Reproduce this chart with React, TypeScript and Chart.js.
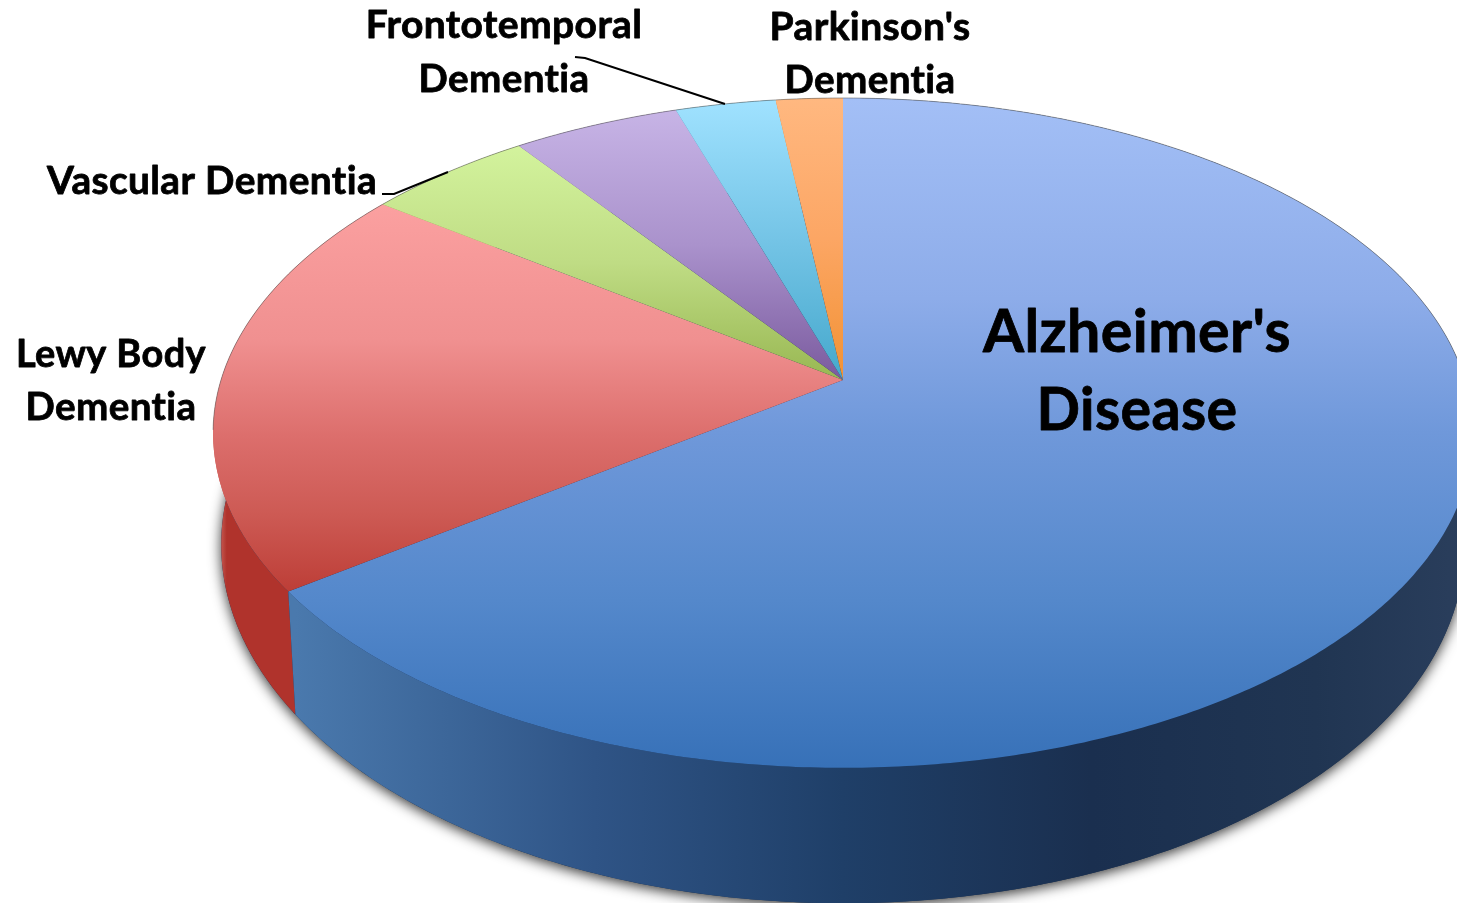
import React, { useEffect, useRef } from "react";
import { Chart, registerables, PieController, ArcElement } from "chart.js";

const categories = [
  "Alzheimer's Disease",
  "Lewy Body Dementia",
  "Vascular Dementia",
  "Frontotemporal Dementia",
  "Other Dementia",
  "Parkinson's Dementia",
];
const shareValues = [65, 20, 5, 5, 3, 2];

const baseColors = ["#5c8ace", "#e07a76", "#b8d67c", "#a48cc8", "#72c2e2", "#fba45e"];
const topStops: [number, string][][] = [
  [[0, "#a3bff6"], [0.3, "#8dace9"], [0.5, "#6f98da"], [0.75, "#5488cb"], [1, "#3771b8"]],
  [[0, "#fba0a0"], [0.35, "#f09090"], [0.6, "#dc6e6c"], [0.8, "#cd5a54"], [1, "#bd3e37"]],
  [[0, "#d3f39d"], [0.5, "#bfdc84"], [1, "#98b752"]],
  [[0, "#c7b4e6"], [0.5, "#aa92cc"], [1, "#7a5a9e"]],
  [[0, "#a0e2ff"], [0.5, "#74c4e6"], [1, "#45a8cc"]],
  [[0, "#ffb880"], [0.5, "#fca664"], [1, "#f29234"]],
];
const wallStops: [number, string][][] = [
  [[0.06, "#4a79ad"], [0.3, "#2f5486"], [0.5, "#1f3f68"], [0.7, "#1a2f4f"], [0.88, "#203552"], [1, "#2a3e5c"]],
  [[0, "#c4574f"], [0.07, "#b0332c"], [1, "#b0332c"]],
  [[0, "#8aa34a"], [1, "#8aa34a"]],
  [[0, "#6d5090"], [1, "#6d5090"]],
  [[0, "#3d95b0"], [1, "#3d95b0"]],
  [[0, "#d9812e"], [1, "#d9812e"]],
];

const FONT = 'bold SIZEpx Lato, "Noto Sans", sans-serif';
const pieLabels = [
  { lines: ["Alzheimer's", "Disease"], x: 1137, ys: [352, 430], size: 60, widths: [308, 201] },
  { lines: ["Lewy Body", "Dementia"], x: 111, ys: [367, 420], size: 39, widths: [190, 171] },
  { lines: ["Vascular Dementia"], x: 212, ys: [194], size: 39, widths: [330] },
  { lines: ["Frontotemporal", "Dementia"], x: 504, ys: [38, 92], size: 39, widths: [278, 171] },
  { lines: ["Parkinson's", "Dementia"], x: 870, ys: [40, 93], size: 39, widths: [201, 171] },
];
const leaders = [
  [[382, 194], [394, 194], [448, 172]],
  [[575, 57], [585, 58], [725, 104]],
];

const CX = 843;
const PERSP = -0.158;
const topDisc = { y0: 380, a: 266.5, r: 622 };
const baseDisc = { y0: 488, a: 272.5, r: 614 };

type Disc = typeof topDisc;
function project(d: Disc, angle: number) {
  const u = Math.cos(angle);
  const v = Math.sin(angle);
  const w = 1 + PERSP * v;
  return { x: CX + (d.r * u) / w, y: (d.y0 + d.a * v) / w };
}
function arcPoints(d: Disc, a0: number, a1: number) {
  const n = Math.max(4, Math.ceil(Math.abs(a1 - a0) / 0.01));
  const pts = [];
  for (let i = 0; i <= n; i++) pts.push(project(d, a0 + ((a1 - a0) * i) / n));
  return pts;
}

class PerspectiveArc extends ArcElement {
  static id = "perspectiveArc";
  draw(ctx: CanvasRenderingContext2D) {
    const self = this as any;
    const i = self.$context.index;
    const rim = arcPoints(topDisc, self.startAngle, self.endAngle);
    const ys = rim.map((p) => p.y).concat(topDisc.y0);
    const g = ctx.createLinearGradient(0, Math.min(...ys), 0, Math.max(...ys));
    topStops[i].forEach(([s, c]) => g.addColorStop(s, c));
    ctx.save();
    ctx.beginPath();
    ctx.moveTo(CX, topDisc.y0);
    rim.forEach((p) => ctx.lineTo(p.x, p.y));
    ctx.closePath();
    ctx.fillStyle = g;
    ctx.fill();
    ctx.beginPath();
    let pen = false;
    rim.forEach((p) => {
      if (p.y < topDisc.y0 + 53) {
        pen ? ctx.lineTo(p.x, p.y) : ctx.moveTo(p.x, p.y);
        pen = true;
      } else pen = false;
    });
    ctx.strokeStyle = "rgba(90,90,90,0.55)";
    ctx.lineWidth = 1;
    ctx.stroke();
    ctx.restore();
  }
}

class PerspectivePieController extends PieController {
  static id = "perspectivePie";
  static defaults = { dataElementType: "perspectiveArc" };
}

Chart.register(...registerables, PerspectiveArc as any, PerspectivePieController as any);

const wallPlugin = {
  id: "wall",
  beforeDatasetsDraw(chart: any) {
    const { ctx } = chart;
    const arcs = chart.getDatasetMeta(0).data;
    ctx.save();
    ctx.shadowColor = "rgba(0,0,0,0.8)";
    ctx.shadowBlur = 13;
    ctx.shadowOffsetX = 0;
    ctx.shadowOffsetY = 3;
    ctx.fillStyle = "#1a2f4f";
    ctx.beginPath();
    arcPoints(baseDisc, 0, Math.PI * 2).forEach((p, k) => (k ? ctx.lineTo(p.x, p.y) : ctx.moveTo(p.x, p.y)));
    ctx.closePath();
    ctx.fill();
    ctx.restore();

    const order = arcs.map((_: any, i: number) => i).reverse();
    order.forEach((i: number) => {
      const el = arcs[i];
      const a = arcPoints(topDisc, el.startAngle, el.endAngle);
      const b = arcPoints(baseDisc, el.endAngle, el.startAngle);
      const g = ctx.createLinearGradient(221, 0, i === 0 ? 1465 : 303, 0);
      wallStops[i].forEach(([s, c]) => g.addColorStop(s, c));
      ctx.beginPath();
      a.concat(b).forEach((p, k) => (k ? ctx.lineTo(p.x, p.y) : ctx.moveTo(p.x, p.y)));
      ctx.closePath();
      ctx.fillStyle = g;
      ctx.fill();
    });
  },
  afterDatasetsDraw(chart: any) {
    const { ctx } = chart;
    ctx.save();
    ctx.strokeStyle = "#000";
    ctx.lineWidth = 2;
    leaders.forEach((line) => {
      ctx.beginPath();
      line.forEach(([x, y], k) => (k ? ctx.lineTo(x, y) : ctx.moveTo(x, y)));
      ctx.stroke();
    });
    ctx.fillStyle = "#000";
    ctx.textAlign = "center";
    ctx.textBaseline = "alphabetic";
    ctx.lineJoin = "round";
    ctx.lineWidth = 0.8;
    ctx.letterSpacing = "0.4px";
    pieLabels.forEach((l) => {
      ctx.font = FONT.replace("SIZE", String(l.size));
      l.lines.forEach((t, k) => {
        ctx.fillText(t, l.x, l.ys[k], l.widths[k]);
        ctx.strokeText(t, l.x, l.ys[k], l.widths[k]);
      });
    });
    ctx.restore();
  },
};

export default function App() {
  const ref = useRef<HTMLCanvasElement>(null);
  useEffect(() => {
    const chart = new Chart(ref.current!, {
      type: "perspectivePie" as any,
      data: {
        labels: categories,
        datasets: [{ data: shareValues, backgroundColor: baseColors, borderWidth: 0 }],
      },
      options: {
        animation: false,
        responsive: false,
        events: [],
        plugins: { legend: { display: false }, tooltip: { enabled: false } },
      } as any,
      plugins: [wallPlugin],
    });
    return () => chart.destroy();
  }, []);
  return (
    <canvas
      ref={ref}
      width={1457}
      height={903}
      style={{ position: "absolute", left: 0, top: 0, display: "block", background: "#fff" }}
    />
  );
}
